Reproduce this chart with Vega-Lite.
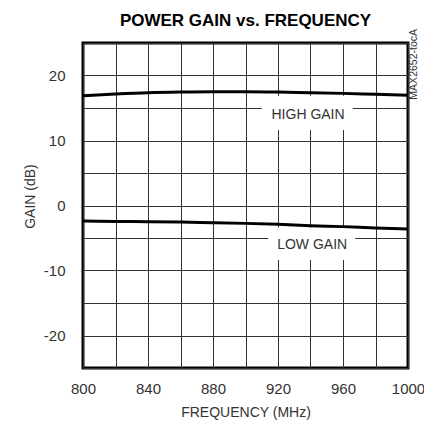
{
  "$schema": "https://vega.github.io/schema/vega-lite/v6.json",
  "width": 325,
  "height": 325,
  "autosize": {"type": "none"},
  "padding": {"left": 83, "top": 43, "right": 16, "bottom": 63},
  "title": {
    "text": "POWER GAIN vs. FREQUENCY",
    "font": "Liberation Sans",
    "fontSize": 17,
    "fontWeight": "bold",
    "color": "black",
    "anchor": "middle",
    "baseline": "alphabetic",
    "offset": 5,
    "dy": 19
  },
  "config": {
    "view": {"stroke": "black", "strokeWidth": 3},
    "axis": {
      "labelFont": "Liberation Sans",
      "labelFontSize": 15,
      "labelColor": "#333",
      "titleFont": "Liberation Sans",
      "titleFontSize": 14,
      "titleFontWeight": "normal",
      "titleColor": "#333",
      "gridColor": "#333",
      "gridOpacity": 1,
      "gridWidth": 1,
      "ticks": false,
      "domain": false,
      "labelFlush": false,
      "labelOverlap": false,
      "tickCount": 30
    }
  },
  "datasets": {
    "curves": [
      {"freq": 800, "gain": 16.9, "series": "HIGH GAIN"},
      {"freq": 820, "gain": 17.15, "series": "HIGH GAIN"},
      {"freq": 840, "gain": 17.35, "series": "HIGH GAIN"},
      {"freq": 860, "gain": 17.45, "series": "HIGH GAIN"},
      {"freq": 880, "gain": 17.5, "series": "HIGH GAIN"},
      {"freq": 900, "gain": 17.5, "series": "HIGH GAIN"},
      {"freq": 920, "gain": 17.45, "series": "HIGH GAIN"},
      {"freq": 940, "gain": 17.35, "series": "HIGH GAIN"},
      {"freq": 960, "gain": 17.25, "series": "HIGH GAIN"},
      {"freq": 980, "gain": 17.1, "series": "HIGH GAIN"},
      {"freq": 1000, "gain": 16.95, "series": "HIGH GAIN"},
      {"freq": 800, "gain": -2.4, "series": "LOW GAIN"},
      {"freq": 820, "gain": -2.45, "series": "LOW GAIN"},
      {"freq": 840, "gain": -2.5, "series": "LOW GAIN"},
      {"freq": 860, "gain": -2.55, "series": "LOW GAIN"},
      {"freq": 880, "gain": -2.65, "series": "LOW GAIN"},
      {"freq": 900, "gain": -2.75, "series": "LOW GAIN"},
      {"freq": 920, "gain": -2.9, "series": "LOW GAIN"},
      {"freq": 940, "gain": -3.1, "series": "LOW GAIN"},
      {"freq": 960, "gain": -3.25, "series": "LOW GAIN"},
      {"freq": 980, "gain": -3.45, "series": "LOW GAIN"},
      {"freq": 1000, "gain": -3.6, "series": "LOW GAIN"}
    ],
    "labels": [
      {"label": "HIGH GAIN", "freq": 938.5, "gain": 13.9, "f1": 910, "f2": 966, "g1": 11.6, "g2": 16.9},
      {"label": "LOW GAIN", "freq": 941, "gain": -6.0, "f1": 914, "f2": 967.5, "g1": -8.4, "g2": -3.4}
    ],
    "note": [
      {"label": "MAX2652-tocA", "freq": 1000, "gain": 25}
    ]
  },
  "layer": [
    {
      "data": {"name": "labels"},
      "mark": {"type": "rect", "fill": "white", "stroke": null},
      "encoding": {
        "x": {
          "field": "f1", "type": "quantitative",
          "scale": {"domain": [800, 1000], "nice": false},
          "axis": {
            "title": "FREQUENCY (MHz)",
            "values": [800, 820, 840, 860, 880, 900, 920, 940, 960, 980, 1000],
            "labelExpr": "datum.value % 40 == 0 ? toString(datum.value) : ''",
            "labelPadding": 13,
            "titlePadding": 9
          }
        },
        "x2": {"field": "f2"},
        "y": {
          "field": "g1", "type": "quantitative",
          "scale": {"domain": [-25, 25], "nice": false},
          "axis": {
            "title": "GAIN (dB)",
            "values": [-25, -20, -15, -10, -5, 0, 5, 10, 15, 20, 25],
            "labelExpr": "datum.value % 10 == 0 ? toString(datum.value) : ''",
            "labelPadding": 18,
            "titlePadding": 6,
            "titleY": 153
          }
        },
        "y2": {"field": "g2"}
      }
    },
    {
      "data": {"name": "curves"},
      "mark": {"type": "line", "color": "black", "strokeWidth": 3, "interpolate": "monotone"},
      "encoding": {
        "x": {"field": "freq", "type": "quantitative"},
        "y": {"field": "gain", "type": "quantitative"},
        "detail": {"field": "series"}
      }
    },
    {
      "data": {"name": "labels"},
      "mark": {"type": "text", "font": "Liberation Sans", "fontSize": 14, "color": "#333", "baseline": "middle", "align": "center"},
      "encoding": {
        "x": {"field": "freq", "type": "quantitative"},
        "y": {"field": "gain", "type": "quantitative"},
        "text": {"field": "label"}
      }
    },
    {
      "data": {"name": "note"},
      "mark": {"type": "text", "font": "Liberation Sans", "fontSize": 10.5, "color": "#333", "angle": 270, "align": "right", "baseline": "middle", "dx": 14, "dy": 6},
      "encoding": {
        "x": {"field": "freq", "type": "quantitative"},
        "y": {"field": "gain", "type": "quantitative"},
        "text": {"field": "label"}
      }
    }
  ]
}
